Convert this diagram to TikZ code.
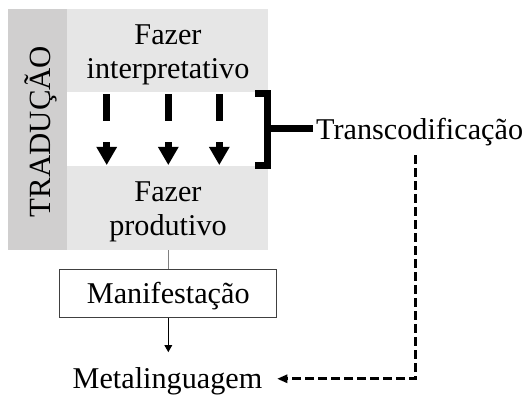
\documentclass[tikz,border=0pt]{standalone}
\usepackage{fontspec}
\setmainfont{Liberation Serif}
\usetikzlibrary{arrows.meta}
\definecolor{stripgray}{HTML}{D0CFCF}
\definecolor{boxgray}{HTML}{E6E6E6}
\definecolor{edgegray}{HTML}{404040}
\definecolor{linkgray}{HTML}{808080}
\begin{document}
\begin{tikzpicture}[x=1pt,y=-1pt,
  txt/.style={font=\fontsize{30.2}{34}\selectfont, inner sep=0pt},
  panel/.style={fill=boxgray, inner sep=0pt, minimum width=201pt, minimum height=83.5pt},
  bigarrow/.style={line width=7pt, dash pattern=on 27pt off 21pt,
    -{Triangle[width=21pt,length=18pt,line width=0pt]},
    shorten <=1.8pt, shorten >=1.5pt},
  bracketline/.style={line width=7pt, line join=miter},
  codeline/.style={line width=3pt, dash pattern=on 9pt off 4pt,
    -{Triangle[width=9pt,length=10pt,line width=0pt]}},
  thinarrow/.style={line width=1pt, -{Triangle[width=8pt,length=7pt,line width=0pt]}}
]
\useasboundingbox[fill=white] (0,0) rectangle (522,395);

% side strip with the vertical title
\node[fill=stripgray, inner sep=0pt, minimum width=59pt, minimum height=241pt] (strip) at (37.5,129.5) {};
\node[txt, font=\fontsize{30.8}{34}\selectfont, rotate=90, anchor=base] (title) at (50,131.5) {TRADUÇÃO};

% the two phases
\node[panel] (interp) at (167.5,50.75) {};
\node[panel] (prod) at (167.5,208.25) {};
\node[txt, anchor=base] (interp1) at (168,45) {Fazer};
\node[txt, anchor=base] (interp2) at (168,79) {interpretativo};
\node[txt, anchor=base] (prod1) at (168,202) {Fazer};
\node[txt, anchor=base] (prod2) at (168,236) {produtivo};

% thick dashed arrows between the phases
\draw[bigarrow] ([xshift=-60.8pt]interp.south) -- ([xshift=-60.8pt]prod.north);
\draw[bigarrow] ([xshift=0.8pt]interp.south) -- ([xshift=0.8pt]prod.north);
\draw[bigarrow] ([xshift=51.8pt]interp.south) -- ([xshift=51.8pt]prod.north);

% bracket and its label
\draw[bracketline] (255,93.5) -- (267.5,93.5) -- (267.5,165.5) -- (255,165.5);
\coordinate (brk) at (267.5,128.7);
\node[txt, anchor=base west] (trans) at (316,140) {Transcodificação};
\draw[line width=7pt, shorten >=3pt] (brk) -- (brk -| trans.west);

% manifestation and metalanguage
\node[txt, draw=edgegray, line width=1pt, minimum width=216.7pt, minimum height=48pt,
      text height=23pt, text depth=3pt] (manif) at (168.3,293.3) {Manifestação};
\node[txt, anchor=base] (meta) at (167.5,388) {Metalinguagem};

\draw[linkgray, line width=1pt] (manif.north |- prod.south) -- (manif.north);
\draw[thinarrow, shorten >=14.7pt] (manif.south) -- (manif.south |- meta.north);
\draw[codeline, shorten <=8.7pt, shorten >=15pt]
  ([xshift=-4pt]trans.south) |- ([yshift=2pt]meta.east);
\end{tikzpicture}
\end{document}
